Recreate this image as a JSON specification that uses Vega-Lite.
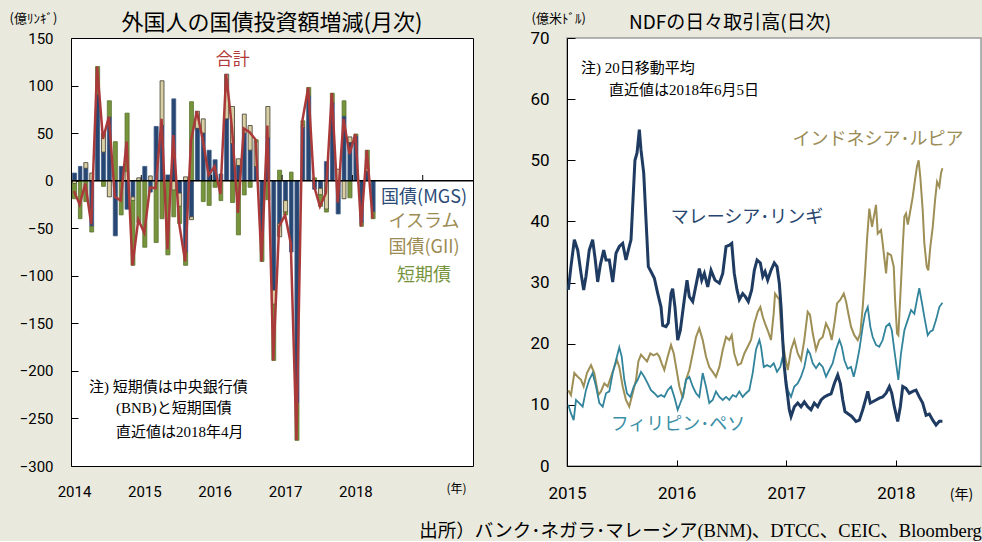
{
  "$schema": "https://vega.github.io/schema/vega-lite/v6.json",
  "background": "#e9e9dd",
  "padding": {"left": 8, "top": 11, "right": 0, "bottom": 0},
  "bounds": "flush",
  "spacing": 94,
  "config": {
    "font": "Noto Sans CJK JP",
    "axis": {"grid": false, "labelColor": "black", "titleColor": "black", "tickColor": "black", "domainColor": "black", "titleFontWeight": "normal", "labelFontWeight": "normal", "labelFlush": false},
    "title": {"fontWeight": "normal", "color": "black"}
  },
  "title": {
    "text": "出所）バンク･ネガラ･マレーシア(BNM)、DTCC、CEIC、Bloomberg",
    "orient": "bottom", "anchor": "end",
    "font": "Liberation Serif, Noto Sans CJK JP", "fontSize": 18.5, "dx": 0, "offset": 20
  },
  "datasets": {
    "bonds": [
      {"d":"2014-01-01","s":"MGS","v":8},{"d":"2014-01-01","s":"GII","v":-3},{"d":"2014-01-01","s":"BNB","v":-16},
      {"d":"2014-02-01","s":"MGS","v":15},{"d":"2014-02-01","s":"BNB","v":-40},
      {"d":"2014-03-01","s":"MGS","v":13},{"d":"2014-03-01","s":"GII","v":6},{"d":"2014-03-01","s":"BNB","v":-22},
      {"d":"2014-04-01","s":"MGS","v":-48},{"d":"2014-04-01","s":"GII","v":8},{"d":"2014-04-01","s":"BNB","v":-6},
      {"d":"2014-05-01","s":"MGS","v":91},{"d":"2014-05-01","s":"BNB","v":29},
      {"d":"2014-06-01","s":"MGS","v":30},{"d":"2014-06-01","s":"GII","v":20},{"d":"2014-06-01","s":"BNB","v":-6},
      {"d":"2014-07-01","s":"MGS","v":67},{"d":"2014-07-01","s":"GII","v":-17},{"d":"2014-07-01","s":"BNB","v":17},
      {"d":"2014-08-01","s":"MGS","v":-58},{"d":"2014-08-01","s":"BNB","v":41},
      {"d":"2014-09-01","s":"MGS","v":15},{"d":"2014-09-01","s":"BNB","v":-36},
      {"d":"2014-10-01","s":"MGS","v":-30},{"d":"2014-10-01","s":"GII","v":10},{"d":"2014-10-01","s":"BNB","v":61},
      {"d":"2014-11-01","s":"MGS","v":-17},{"d":"2014-11-01","s":"GII","v":-4},{"d":"2014-11-01","s":"BNB","v":-68},
      {"d":"2014-12-01","s":"GII","v":3},{"d":"2014-12-01","s":"BNB","v":-44},
      {"d":"2015-01-01","s":"MGS","v":15},{"d":"2015-01-01","s":"BNB","v":-70},
      {"d":"2015-02-01","s":"MGS","v":-12},{"d":"2015-02-01","s":"GII","v":5},
      {"d":"2015-03-01","s":"MGS","v":57},{"d":"2015-03-01","s":"BNB","v":-65},
      {"d":"2015-04-01","s":"MGS","v":58},{"d":"2015-04-01","s":"GII","v":47},{"d":"2015-04-01","s":"BNB","v":-40},
      {"d":"2015-05-01","s":"MGS","v":6},{"d":"2015-05-01","s":"BNB","v":-78},
      {"d":"2015-06-01","s":"MGS","v":86},{"d":"2015-06-01","s":"GII","v":-10},{"d":"2015-06-01","s":"BNB","v":-28},
      {"d":"2015-07-01","s":"MGS","v":-13},{"d":"2015-07-01","s":"GII","v":-14},{"d":"2015-07-01","s":"BNB","v":-18},
      {"d":"2015-08-01","s":"MGS","v":-75},{"d":"2015-08-01","s":"GII","v":4},{"d":"2015-08-01","s":"BNB","v":-14},
      {"d":"2015-09-01","s":"MGS","v":-38},{"d":"2015-09-01","s":"GII","v":-3},{"d":"2015-09-01","s":"BNB","v":83},
      {"d":"2015-10-01","s":"MGS","v":55},{"d":"2015-10-01","s":"GII","v":18},
      {"d":"2015-11-01","s":"MGS","v":50},{"d":"2015-11-01","s":"GII","v":15},{"d":"2015-11-01","s":"BNB","v":-22},
      {"d":"2015-12-01","s":"MGS","v":32},{"d":"2015-12-01","s":"BNB","v":-26},
      {"d":"2016-01-01","s":"MGS","v":22},{"d":"2016-01-01","s":"BNB","v":-7},
      {"d":"2016-02-01","s":"MGS","v":7},{"d":"2016-02-01","s":"BNB","v":-21},
      {"d":"2016-03-01","s":"MGS","v":65},{"d":"2016-03-01","s":"GII","v":47},
      {"d":"2016-04-01","s":"MGS","v":39},{"d":"2016-04-01","s":"GII","v":39},{"d":"2016-04-01","s":"BNB","v":-23},
      {"d":"2016-05-01","s":"MGS","v":16},{"d":"2016-05-01","s":"GII","v":7},{"d":"2016-05-01","s":"BNB","v":-57},
      {"d":"2016-06-01","s":"MGS","v":50},{"d":"2016-06-01","s":"GII","v":20},{"d":"2016-06-01","s":"BNB","v":-15},
      {"d":"2016-07-01","s":"MGS","v":32},{"d":"2016-07-01","s":"GII","v":26},{"d":"2016-07-01","s":"BNB","v":-7},
      {"d":"2016-08-01","s":"MGS","v":15},{"d":"2016-08-01","s":"GII","v":26},{"d":"2016-08-01","s":"BNB","v":2},
      {"d":"2016-09-01","s":"MGS","v":-55},{"d":"2016-09-01","s":"BNB","v":-30},
      {"d":"2016-10-01","s":"MGS","v":45},{"d":"2016-10-01","s":"GII","v":33},{"d":"2016-10-01","s":"BNB","v":-20},
      {"d":"2016-11-01","s":"MGS","v":-115},{"d":"2016-11-01","s":"GII","v":-15},{"d":"2016-11-01","s":"BNB","v":-59},
      {"d":"2016-12-01","s":"MGS","v":-45},{"d":"2016-12-01","s":"GII","v":-14},{"d":"2016-12-01","s":"BNB","v":11},
      {"d":"2017-01-01","s":"MGS","v":-21},{"d":"2017-01-01","s":"GII","v":-12},{"d":"2017-01-01","s":"BNB","v":-3},
      {"d":"2017-02-01","s":"MGS","v":-75},{"d":"2017-02-01","s":"BNB","v":9},
      {"d":"2017-03-01","s":"MGS","v":-234},{"d":"2017-03-01","s":"BNB","v":-39},
      {"d":"2017-04-01","s":"MGS","v":56},{"d":"2017-04-01","s":"GII","v":2},{"d":"2017-04-01","s":"BNB","v":5},
      {"d":"2017-05-01","s":"MGS","v":89},{"d":"2017-05-01","s":"BNB","v":9},
      {"d":"2017-06-01","s":"MGS","v":-9},{"d":"2017-06-01","s":"BNB","v":3},
      {"d":"2017-07-01","s":"MGS","v":-8},{"d":"2017-07-01","s":"GII","v":-7},{"d":"2017-07-01","s":"BNB","v":-12},
      {"d":"2017-08-01","s":"MGS","v":20},{"d":"2017-08-01","s":"GII","v":-30},{"d":"2017-08-01","s":"BNB","v":-3},
      {"d":"2017-09-01","s":"MGS","v":82},{"d":"2017-09-01","s":"BNB","v":10},
      {"d":"2017-10-01","s":"MGS","v":-35},{"d":"2017-10-01","s":"GII","v":12},
      {"d":"2017-11-01","s":"MGS","v":68},{"d":"2017-11-01","s":"GII","v":-19},{"d":"2017-11-01","s":"BNB","v":16},
      {"d":"2017-12-01","s":"MGS","v":40},{"d":"2017-12-01","s":"GII","v":6},{"d":"2017-12-01","s":"BNB","v":-18},
      {"d":"2018-01-01","s":"MGS","v":47},{"d":"2018-01-01","s":"BNB","v":2},
      {"d":"2018-02-01","s":"MGS","v":-44},{"d":"2018-02-01","s":"BNB","v":-4},
      {"d":"2018-03-01","s":"MGS","v":10},{"d":"2018-03-01","s":"GII","v":3},{"d":"2018-03-01","s":"BNB","v":19},
      {"d":"2018-04-01","s":"MGS","v":-33},{"d":"2018-04-01","s":"BNB","v":-7}
    ],
    "total": [
      {"d":"2014-01-01","v":-11},{"d":"2014-02-01","v":-25},{"d":"2014-03-01","v":-3},{"d":"2014-04-01","v":-46},
      {"d":"2014-05-01","v":120},{"d":"2014-06-01","v":44},{"d":"2014-07-01","v":67},{"d":"2014-08-01","v":-17},
      {"d":"2014-09-01","v":-21},{"d":"2014-10-01","v":41},{"d":"2014-11-01","v":-89},{"d":"2014-12-01","v":-41},
      {"d":"2015-01-01","v":-55},{"d":"2015-02-01","v":-7},{"d":"2015-03-01","v":-8},{"d":"2015-04-01","v":65},
      {"d":"2015-05-01","v":-72},{"d":"2015-06-01","v":48},{"d":"2015-07-01","v":-45},{"d":"2015-08-01","v":-85},
      {"d":"2015-09-01","v":42},{"d":"2015-10-01","v":73},{"d":"2015-11-01","v":43},{"d":"2015-12-01","v":6},
      {"d":"2016-01-01","v":15},{"d":"2016-02-01","v":-14},{"d":"2016-03-01","v":112},{"d":"2016-04-01","v":55},
      {"d":"2016-05-01","v":-34},{"d":"2016-06-01","v":55},{"d":"2016-07-01","v":51},{"d":"2016-08-01","v":43},
      {"d":"2016-09-01","v":-85},{"d":"2016-10-01","v":58},{"d":"2016-11-01","v":-189},{"d":"2016-12-01","v":-48},
      {"d":"2017-01-01","v":-36},{"d":"2017-02-01","v":-66},{"d":"2017-03-01","v":-273},{"d":"2017-04-01","v":63},
      {"d":"2017-05-01","v":98},{"d":"2017-06-01","v":-6},{"d":"2017-07-01","v":-27},{"d":"2017-08-01","v":-13},
      {"d":"2017-09-01","v":92},{"d":"2017-10-01","v":-23},{"d":"2017-11-01","v":65},{"d":"2017-12-01","v":28},
      {"d":"2018-01-01","v":49},{"d":"2018-02-01","v":-48},{"d":"2018-03-01","v":32},{"d":"2018-04-01","v":-40}
    ],
    "yearticks": [{"d":"2015-01-01"},{"d":"2016-01-01"},{"d":"2017-01-01"},{"d":"2018-01-01"},{"d":"2019-01-01"}],
    "myr": [
      {"t":2015.012,"v":28.8},{"t":2015.036,"v":32.6},{"t":2015.067,"v":37},{"t":2015.098,"v":35.3},{"t":2015.128,"v":31.5},
      {"t":2015.152,"v":28.8},{"t":2015.173,"v":31},{"t":2015.203,"v":35.3},{"t":2015.234,"v":37},{"t":2015.258,"v":33.7},
      {"t":2015.28,"v":30.1},{"t":2015.304,"v":32.9},{"t":2015.335,"v":35.3},{"t":2015.356,"v":33.7},{"t":2015.386,"v":33.7},
      {"t":2015.417,"v":30.1},{"t":2015.447,"v":34.8},{"t":2015.477,"v":35.9},{"t":2015.508,"v":36.4},{"t":2015.538,"v":33.7},
      {"t":2015.568,"v":35.9},{"t":2015.584,"v":37},{"t":2015.62,"v":50},{"t":2015.639,"v":51.2},{"t":2015.66,"v":55},
      {"t":2015.675,"v":51.7},{"t":2015.7,"v":47.9},{"t":2015.721,"v":40.2},{"t":2015.73,"v":37},{"t":2015.742,"v":32.6},
      {"t":2015.766,"v":31.8},{"t":2015.797,"v":30.7},{"t":2015.828,"v":28.2},{"t":2015.858,"v":26},{"t":2015.873,"v":23},
      {"t":2015.903,"v":22.8},{"t":2015.924,"v":23.4},{"t":2015.949,"v":28.2},{"t":2015.964,"v":29},{"t":2015.985,"v":26},
      {"t":2016.01,"v":20.6},{"t":2016.034,"v":22.2},{"t":2016.07,"v":27.2},{"t":2016.095,"v":30.4},{"t":2016.116,"v":27.7},
      {"t":2016.147,"v":26.9},{"t":2016.186,"v":30.4},{"t":2016.207,"v":32.3},{"t":2016.229,"v":30.4},{"t":2016.253,"v":31.5},
      {"t":2016.284,"v":29.3},{"t":2016.314,"v":32},{"t":2016.35,"v":30.4},{"t":2016.39,"v":29.9},{"t":2016.421,"v":31.5},
      {"t":2016.451,"v":35.9},{"t":2016.481,"v":36.1},{"t":2016.503,"v":36.4},{"t":2016.526,"v":31.5},{"t":2016.551,"v":28.8},
      {"t":2016.572,"v":27.2},{"t":2016.603,"v":28.2},{"t":2016.627,"v":27.7},{"t":2016.654,"v":26.9},{"t":2016.685,"v":28.8},
      {"t":2016.709,"v":32},{"t":2016.734,"v":33.7},{"t":2016.764,"v":33.2},{"t":2016.786,"v":31},{"t":2016.807,"v":31.8},
      {"t":2016.831,"v":30.4},{"t":2016.861,"v":32},{"t":2016.891,"v":33.2},{"t":2016.916,"v":32.6},{"t":2016.937,"v":29.9},
      {"t":2016.953,"v":26},{"t":2016.968,"v":20.6},{"t":2016.983,"v":16.2},{"t":2016.998,"v":13.5},{"t":2017.014,"v":11.3},
      {"t":2017.028,"v":9.2},{"t":2017.044,"v":8.1},{"t":2017.074,"v":9.7},{"t":2017.105,"v":10.3},{"t":2017.135,"v":9.7},
      {"t":2017.165,"v":10.5},{"t":2017.196,"v":9.7},{"t":2017.226,"v":9.2},{"t":2017.256,"v":10.3},{"t":2017.287,"v":9.7},
      {"t":2017.318,"v":10.8},{"t":2017.348,"v":11.3},{"t":2017.379,"v":11.6},{"t":2017.409,"v":11.8},{"t":2017.439,"v":13.5},
      {"t":2017.47,"v":14.9},{"t":2017.494,"v":13.5},{"t":2017.516,"v":10.8},{"t":2017.536,"v":8.9},{"t":2017.567,"v":8.5},
      {"t":2017.598,"v":8.1},{"t":2017.637,"v":7.3},{"t":2017.667,"v":7.5},{"t":2017.698,"v":9.2},{"t":2017.728,"v":11.1},
      {"t":2017.744,"v":12.2},{"t":2017.767,"v":10.3},{"t":2017.789,"v":10.5},{"t":2017.819,"v":10.8},{"t":2017.849,"v":11.1},
      {"t":2017.88,"v":11.3},{"t":2017.911,"v":11.9},{"t":2017.941,"v":13},{"t":2017.963,"v":11.9},{"t":2017.986,"v":9.7},
      {"t":2018.017,"v":7.3},{"t":2018.041,"v":9.7},{"t":2018.063,"v":13},{"t":2018.093,"v":12.7},{"t":2018.123,"v":11.9},
      {"t":2018.154,"v":12.2},{"t":2018.184,"v":12.4},{"t":2018.214,"v":11.3},{"t":2018.245,"v":10.3},{"t":2018.276,"v":8.3},
      {"t":2018.306,"v":8.5},{"t":2018.337,"v":7.5},{"t":2018.367,"v":6.7},{"t":2018.397,"v":7.3},{"t":2018.425,"v":7.3}
    ],
    "idr": [
      {"t":2015.012,"v":12.4},{"t":2015.036,"v":11.6},{"t":2015.067,"v":15.2},{"t":2015.098,"v":14.6},{"t":2015.128,"v":14.1},
      {"t":2015.152,"v":13},{"t":2015.182,"v":15.2},{"t":2015.219,"v":16.5},{"t":2015.249,"v":15.2},{"t":2015.286,"v":11.6},
      {"t":2015.31,"v":12.2},{"t":2015.34,"v":13.5},{"t":2015.371,"v":13},{"t":2015.401,"v":14.6},{"t":2015.432,"v":16.2},
      {"t":2015.456,"v":17.3},{"t":2015.477,"v":16.2},{"t":2015.508,"v":13},{"t":2015.538,"v":10.8},{"t":2015.568,"v":9.7},
      {"t":2015.599,"v":11.9},{"t":2015.63,"v":14.1},{"t":2015.651,"v":17.1},{"t":2015.675,"v":18.2},{"t":2015.705,"v":17.6},
      {"t":2015.73,"v":17.1},{"t":2015.76,"v":18.4},{"t":2015.791,"v":18.1},{"t":2015.821,"v":18.4},{"t":2015.842,"v":17.9},
      {"t":2015.864,"v":16.8},{"t":2015.888,"v":15.7},{"t":2015.919,"v":17.9},{"t":2015.949,"v":19.8},{"t":2015.974,"v":18.4},
      {"t":2015.995,"v":16.2},{"t":2016.025,"v":13},{"t":2016.056,"v":11.1},{"t":2016.086,"v":14.1},{"t":2016.116,"v":15.7},
      {"t":2016.147,"v":18.4},{"t":2016.177,"v":21.1},{"t":2016.207,"v":22.5},{"t":2016.238,"v":20.6},{"t":2016.268,"v":17.9},
      {"t":2016.298,"v":16.2},{"t":2016.329,"v":15.4},{"t":2016.359,"v":14.6},{"t":2016.39,"v":16.2},{"t":2016.421,"v":19},
      {"t":2016.451,"v":21.1},{"t":2016.481,"v":20.6},{"t":2016.503,"v":21.4},{"t":2016.526,"v":18.4},{"t":2016.558,"v":16.5},
      {"t":2016.588,"v":16.8},{"t":2016.618,"v":18.4},{"t":2016.649,"v":19.5},{"t":2016.679,"v":20.6},{"t":2016.709,"v":23.3},
      {"t":2016.74,"v":25.2},{"t":2016.764,"v":26},{"t":2016.786,"v":24.4},{"t":2016.807,"v":23.3},{"t":2016.831,"v":22.2},
      {"t":2016.861,"v":20.6},{"t":2016.886,"v":25},{"t":2016.898,"v":28.2},{"t":2016.937,"v":27.2},{"t":2016.953,"v":22.8},
      {"t":2016.968,"v":20.6},{"t":2016.989,"v":17.9},{"t":2017.014,"v":15.7},{"t":2017.044,"v":19},{"t":2017.074,"v":20.6},
      {"t":2017.105,"v":18.4},{"t":2017.135,"v":17.3},{"t":2017.165,"v":20.6},{"t":2017.196,"v":25.2},{"t":2017.217,"v":24.7},
      {"t":2017.242,"v":21.7},{"t":2017.272,"v":19},{"t":2017.302,"v":20.6},{"t":2017.333,"v":21.1},{"t":2017.363,"v":23.3},
      {"t":2017.393,"v":22.2},{"t":2017.415,"v":20.6},{"t":2017.439,"v":23.3},{"t":2017.464,"v":26.6},{"t":2017.494,"v":27.2},
      {"t":2017.525,"v":28.2},{"t":2017.546,"v":26.9},{"t":2017.567,"v":24.9},{"t":2017.591,"v":22.8},{"t":2017.621,"v":21.4},
      {"t":2017.652,"v":20.6},{"t":2017.676,"v":21.7},{"t":2017.698,"v":26},{"t":2017.719,"v":31.5},{"t":2017.737,"v":37},
      {"t":2017.758,"v":42.1},{"t":2017.783,"v":39.1},{"t":2017.819,"v":42.7},{"t":2017.835,"v":38},{"t":2017.865,"v":38.6},
      {"t":2017.88,"v":36.4},{"t":2017.911,"v":31.5},{"t":2017.926,"v":34.8},{"t":2017.956,"v":34.5},{"t":2017.981,"v":32.6},
      {"t":2017.993,"v":27.2},{"t":2018.011,"v":21.7},{"t":2018.023,"v":21.4},{"t":2018.047,"v":29.9},{"t":2018.063,"v":35.9},
      {"t":2018.078,"v":40.8},{"t":2018.093,"v":41.3},{"t":2018.109,"v":39.5},{"t":2018.123,"v":40.8},{"t":2018.154,"v":44},
      {"t":2018.175,"v":46.8},{"t":2018.193,"v":49},{"t":2018.208,"v":50},{"t":2018.223,"v":47.3},{"t":2018.245,"v":41.9},
      {"t":2018.26,"v":36.4},{"t":2018.282,"v":32.6},{"t":2018.296,"v":32},{"t":2018.315,"v":35.9},{"t":2018.337,"v":39.1},
      {"t":2018.358,"v":43.5},{"t":2018.376,"v":46.5},{"t":2018.397,"v":45.7},{"t":2018.412,"v":47.9},{"t":2018.425,"v":48.7}
    ],
    "php": [
      {"t":2015.012,"v":10},{"t":2015.036,"v":8.6},{"t":2015.061,"v":7.5},{"t":2015.082,"v":10.8},{"t":2015.112,"v":10.3},
      {"t":2015.143,"v":9.7},{"t":2015.173,"v":12.4},{"t":2015.203,"v":14.1},{"t":2015.234,"v":15.2},{"t":2015.265,"v":13},
      {"t":2015.295,"v":10.3},{"t":2015.326,"v":9.7},{"t":2015.356,"v":11.9},{"t":2015.386,"v":12.2},{"t":2015.417,"v":15.2},
      {"t":2015.447,"v":17.3},{"t":2015.477,"v":19.4},{"t":2015.499,"v":17.9},{"t":2015.523,"v":14.1},{"t":2015.547,"v":11.9},
      {"t":2015.578,"v":11.3},{"t":2015.609,"v":13},{"t":2015.645,"v":14.1},{"t":2015.675,"v":15.4},{"t":2015.705,"v":14.6},
      {"t":2015.736,"v":13.5},{"t":2015.766,"v":12.4},{"t":2015.797,"v":11.9},{"t":2015.828,"v":11.3},{"t":2015.858,"v":11.6},
      {"t":2015.888,"v":11.3},{"t":2015.919,"v":12.4},{"t":2015.949,"v":13},{"t":2015.979,"v":11.3},{"t":2016.01,"v":9.2},
      {"t":2016.034,"v":10.3},{"t":2016.056,"v":11.3},{"t":2016.086,"v":14.1},{"t":2016.116,"v":14.6},{"t":2016.147,"v":13},
      {"t":2016.177,"v":11.9},{"t":2016.207,"v":11.3},{"t":2016.238,"v":15.2},{"t":2016.268,"v":13},{"t":2016.298,"v":10.3},
      {"t":2016.329,"v":10.8},{"t":2016.359,"v":12.2},{"t":2016.39,"v":11.3},{"t":2016.421,"v":10.8},{"t":2016.451,"v":11.3},
      {"t":2016.481,"v":10.8},{"t":2016.512,"v":11.6},{"t":2016.542,"v":11.3},{"t":2016.572,"v":12.2},{"t":2016.603,"v":11.3},
      {"t":2016.633,"v":11.9},{"t":2016.663,"v":12.4},{"t":2016.694,"v":15.2},{"t":2016.724,"v":19},{"t":2016.755,"v":20.6},
      {"t":2016.77,"v":19.5},{"t":2016.795,"v":16.2},{"t":2016.825,"v":16.5},{"t":2016.855,"v":16.2},{"t":2016.886,"v":16.8},
      {"t":2016.916,"v":15.4},{"t":2016.946,"v":16.2},{"t":2016.968,"v":17.9},{"t":2016.989,"v":15.2},{"t":2017.014,"v":12.4},
      {"t":2017.044,"v":11.3},{"t":2017.074,"v":13},{"t":2017.105,"v":13.5},{"t":2017.135,"v":14.6},{"t":2017.165,"v":16.2},
      {"t":2017.196,"v":19},{"t":2017.217,"v":18.4},{"t":2017.242,"v":16.8},{"t":2017.272,"v":16},{"t":2017.302,"v":16.8},
      {"t":2017.333,"v":16.2},{"t":2017.363,"v":14.6},{"t":2017.393,"v":15.7},{"t":2017.424,"v":16.8},{"t":2017.454,"v":19},
      {"t":2017.485,"v":20.6},{"t":2017.507,"v":19.5},{"t":2017.531,"v":17.3},{"t":2017.561,"v":15.9},{"t":2017.591,"v":16.2},
      {"t":2017.616,"v":14.6},{"t":2017.637,"v":16.2},{"t":2017.667,"v":19},{"t":2017.698,"v":22.8},{"t":2017.719,"v":24.9},
      {"t":2017.744,"v":26},{"t":2017.767,"v":22.8},{"t":2017.789,"v":21.1},{"t":2017.819,"v":19.8},{"t":2017.849,"v":19.5},
      {"t":2017.88,"v":20.6},{"t":2017.911,"v":22.8},{"t":2017.941,"v":23.3},{"t":2017.963,"v":22.2},{"t":2017.986,"v":19},
      {"t":2018.011,"v":15.7},{"t":2018.023,"v":14.1},{"t":2018.047,"v":18.4},{"t":2018.078,"v":22.2},{"t":2018.109,"v":23.9},
      {"t":2018.139,"v":25.5},{"t":2018.169,"v":24.9},{"t":2018.193,"v":27.2},{"t":2018.214,"v":29.1},{"t":2018.236,"v":26.9},
      {"t":2018.26,"v":24.4},{"t":2018.291,"v":21.4},{"t":2018.315,"v":22},{"t":2018.337,"v":22.2},{"t":2018.367,"v":23.9},
      {"t":2018.397,"v":26},{"t":2018.425,"v":26.7}
    ]
  },
  "hconcat": [
    {
      "width": 402, "height": 428,
      "view": {"stroke": "black", "strokeWidth": 1, "fill": "white"},
      "title": {"text": "外国人の国債投資額増減(月次)", "fontSize": 22, "offset": -23, "frame": "group"},
      "layer": [
        {
          "data": {"name": "bonds"},
          "mark": {"type": "bar", "width": {"band": 0.85}, "strokeWidth": 0.8},
          "encoding": {
            "x": {"field": "d", "type": "temporal", "timeUnit": "utcyearmonth",
              "scale": {"domain": [{"year": 2014, "month": 1, "date": 1, "utc": true}, {"year": 2019, "month": 9, "date": 19, "utc": true}]},
              "axis": {"values": [{"year": 2014, "utc": true}, {"year": 2015, "utc": true}, {"year": 2016, "utc": true}, {"year": 2017, "utc": true}, {"year": 2018, "utc": true}],
                "format": "%Y", "ticks": false, "domain": false, "labelFontSize": 15, "labelFont": "Liberation Sans Narrow, Roboto", "labelPadding": 18, "labelOffset": 3,
                "title": "(年)", "titleFontSize": 12, "titleX": 385, "titleY": 22, "titleAlign": "center", "titleBaseline": "middle"}},
            "y": {"field": "v", "type": "quantitative", "stack": "zero",
              "scale": {"domain": [-300, 150], "nice": false},
              "axis": {"values": [-300, -250, -200, -150, -100, -50, 0, 50, 100, 150], "tickSize": -7, "domain": false,
                "labelFontSize": 15, "labelFont": "Liberation Sans Narrow, Roboto", "labelPadding": 25,
                "title": "(億ﾘﾝｷﾞ)", "titleAngle": 0, "titleAlign": "left", "titleBaseline": "middle", "titleX": -62, "titleY": -20, "titleFontSize": 13}},
            "color": {"field": "s", "type": "nominal", "scale": {"domain": ["MGS", "GII", "BNB"], "range": ["#274671", "#d8cfa4", "#77933c"]}, "legend": null},
            "stroke": {"field": "s", "type": "nominal", "scale": {"domain": ["MGS", "GII", "BNB"], "range": ["#3d5c88", "#3c3a2c", "#5b7530"]}, "legend": null},
            "order": {"field": "s", "sort": "descending"}
          }
        },
        {
          "data": {"values": [{}]},
          "mark": {"type": "rule", "color": "black", "strokeWidth": 1.5},
          "encoding": {"y": {"datum": 0}}
        },
        {
          "data": {"name": "yearticks"},
          "mark": {"type": "rule", "color": "black", "strokeWidth": 1},
          "encoding": {"x": {"field": "d", "type": "temporal", "timeUnit": "utcyear"}, "y": {"datum": 0}, "y2": {"datum": 6}}
        },
        {
          "data": {"name": "total"},
          "mark": {"type": "line", "color": "#aa3a3a", "strokeWidth": 2.5},
          "encoding": {
            "x": {"field": "d", "type": "temporal", "timeUnit": "utcyearmonth", "bandPosition": 0.5},
            "y": {"field": "v", "type": "quantitative"}
          }
        },
        {
          "data": {"values": [{}]},
          "mark": {"type": "text", "text": "合計", "fontSize": 17, "color": "#b03a3a", "align": "center", "baseline": "middle"},
          "encoding": {"x": {"datum": {"year": 2016, "month": 4, "date": 20, "utc": true}, "type": "temporal"}, "y": {"datum": 127}}
        },
        {
          "data": {"values": [{}]},
          "mark": {"type": "text", "text": "国債(MGS)", "fontSize": 18, "color": "#2b4b78", "align": "center", "baseline": "middle"},
          "encoding": {"x": {"datum": {"year": 2019, "month": 1, "date": 8, "utc": true}, "type": "temporal"}, "y": {"datum": -18}}
        },
        {
          "data": {"values": [{}]},
          "mark": {"type": "text", "text": "イスラム", "fontSize": 18, "color": "#9c8b52", "align": "center", "baseline": "middle"},
          "encoding": {"x": {"datum": {"year": 2019, "month": 1, "date": 8, "utc": true}, "type": "temporal"}, "y": {"datum": -43}}
        },
        {
          "data": {"values": [{}]},
          "mark": {"type": "text", "text": "国債(GII)", "fontSize": 18, "color": "#9c8b52", "align": "center", "baseline": "middle"},
          "encoding": {"x": {"datum": {"year": 2019, "month": 1, "date": 8, "utc": true}, "type": "temporal"}, "y": {"datum": -71}}
        },
        {
          "data": {"values": [{}]},
          "mark": {"type": "text", "text": "短期債", "fontSize": 18, "color": "#77933c", "align": "center", "baseline": "middle"},
          "encoding": {"x": {"datum": {"year": 2019, "month": 1, "date": 8, "utc": true}, "type": "temporal"}, "y": {"datum": -100}}
        },
        {
          "data": {"values": [{}]},
          "mark": {"type": "text", "text": "注) 短期債は中央銀行債", "fontSize": 15, "font": "Liberation Serif, Noto Sans CJK JP", "color": "black", "align": "left", "baseline": "middle"},
          "encoding": {"x": {"datum": {"year": 2014, "month": 4, "date": 4, "utc": true}, "type": "temporal"}, "y": {"datum": -217}}
        },
        {
          "data": {"values": [{}]},
          "mark": {"type": "text", "text": "(BNB)と短期国債", "fontSize": 15, "font": "Liberation Serif, Noto Sans CJK JP", "color": "black", "align": "left", "baseline": "middle"},
          "encoding": {"x": {"datum": {"year": 2014, "month": 8, "date": 22, "utc": true}, "type": "temporal"}, "y": {"datum": -239}}
        },
        {
          "data": {"values": [{}]},
          "mark": {"type": "text", "text": "直近値は2018年4月", "fontSize": 15, "font": "Liberation Serif, Noto Sans CJK JP", "color": "black", "align": "left", "baseline": "middle"},
          "encoding": {"x": {"datum": {"year": 2014, "month": 8, "date": 22, "utc": true}, "type": "temporal"}, "y": {"datum": -264}}
        }
      ]
    },
    {
      "width": 414, "height": 428,
      "view": {"stroke": "#9a9a9a", "strokeWidth": 1.5, "fill": "white"},
      "title": {"text": "NDFの日々取引高(日次)", "fontSize": 19, "offset": -21, "dx": -44, "frame": "group"},
      "layer": [
        {
          "data": {"name": "idr"},
          "mark": {"type": "line", "color": "#9d8f55", "strokeWidth": 2},
          "encoding": {
            "x": {"field": "t", "type": "quantitative",
              "scale": {"domain": [2015, 2018.777], "nice": false, "zero": false},
              "axis": {"values": [2015, 2016, 2017, 2018], "format": "d", "tickSize": -6, "labelFontSize": 17, "labelFont": "Liberation Sans Narrow, Roboto", "labelPadding": 25,
                "title": "(年)", "titleFontSize": 14, "titleX": 394, "titleY": 28, "titleAlign": "center", "titleBaseline": "middle"}},
            "y": {"field": "v", "type": "quantitative",
              "scale": {"domain": [0, 70], "nice": false},
              "axis": {"values": [0, 10, 20, 30, 40, 50, 60, 70], "tickSize": -8, "labelFontSize": 17, "labelFont": "Liberation Sans Narrow, Roboto", "labelPadding": 26,
                "title": "(億米ﾄﾞﾙ)", "titleAngle": 0, "titleAlign": "left", "titleBaseline": "middle", "titleX": -36, "titleY": -20, "titleFontSize": 13}}
          }
        },
        {
          "data": {"name": "php"},
          "mark": {"type": "line", "color": "#31849b", "strokeWidth": 1.8},
          "encoding": {"x": {"field": "t", "type": "quantitative"}, "y": {"field": "v", "type": "quantitative"}}
        },
        {
          "data": {"name": "myr"},
          "mark": {"type": "line", "color": "#1f3b62", "strokeWidth": 3},
          "encoding": {"x": {"field": "t", "type": "quantitative"}, "y": {"field": "v", "type": "quantitative"}}
        },
        {
          "data": {"values": [{}]},
          "mark": {"type": "text", "text": "注) 20日移動平均", "fontSize": 15, "font": "Liberation Serif, Noto Sans CJK JP", "color": "black", "align": "left", "baseline": "middle"},
          "encoding": {"x": {"datum": 2015.128}, "y": {"datum": 65.1}}
        },
        {
          "data": {"values": [{}]},
          "mark": {"type": "text", "text": "直近値は2018年6月5日", "fontSize": 15, "font": "Liberation Serif, Noto Sans CJK JP", "color": "black", "align": "left", "baseline": "middle"},
          "encoding": {"x": {"datum": 2015.383}, "y": {"datum": 61.5}}
        },
        {
          "data": {"values": [{}]},
          "mark": {"type": "text", "text": "インドネシア･ルピア", "fontSize": 18, "color": "#9a8c55", "align": "center", "baseline": "middle"},
          "encoding": {"x": {"datum": 2017.838}, "y": {"datum": 53.3}}
        },
        {
          "data": {"values": [{}]},
          "mark": {"type": "text", "text": "マレーシア･リンギ", "fontSize": 18, "color": "#27466f", "align": "center", "baseline": "middle"},
          "encoding": {"x": {"datum": 2016.642}, "y": {"datum": 40.6}}
        },
        {
          "data": {"values": [{}]},
          "mark": {"type": "text", "text": "フィリピン･ペソ", "fontSize": 18, "color": "#3b8fa6", "align": "center", "baseline": "middle"},
          "encoding": {"x": {"datum": 2016.013}, "y": {"datum": 6.7}}
        }
      ]
    }
  ]
}
